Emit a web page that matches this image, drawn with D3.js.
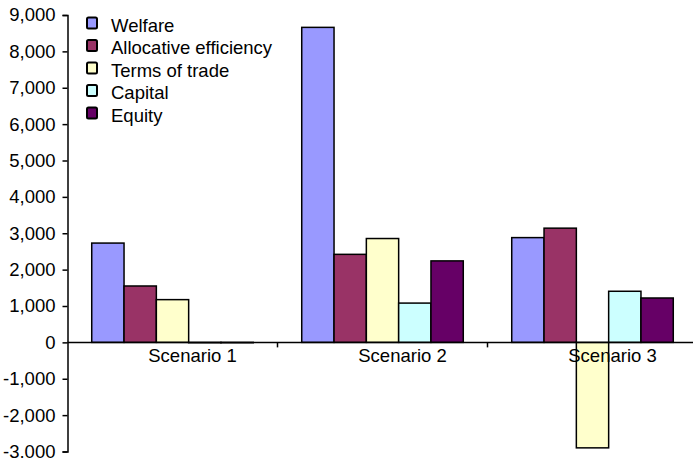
<!DOCTYPE html>
<meta charset="utf-8" />
<html>
<head>
<title>Scenarios</title>
<script src="https://cdn.jsdelivr.net/npm/d3@7"></script>
<style>
body { margin: 0; background: #fff; }
text { font-family: "Liberation Sans", Arial, sans-serif; fill: #000; }
</style>
</head>
<body>
<div id="viz"></div>
<script>

// data
var scenarios = ["Scenario 1", "Scenario 2", "Scenario 3"];
var series = ["Welfare", "Allocative efficiency", "Terms of trade", "Capital", "Equity"];
var colors = ["#9999ff", "#993366", "#ffffcc", "#ccffff", "#660066"];
var welfare = [2730, 8660, 2880];
var allocative = [1550, 2420, 3140];
var termsOfTrade = [1175, 2855, -2900];
var capital = [-10, 1080, 1405];
var equity = [-10, 2240, 1220];
var yTicks = [-3000, -2000, -1000, 0, 1000, 2000, 3000, 4000, 5000, 6000, 7000, 8000, 9000];

var values = [welfare, allocative, termsOfTrade, capital, equity];

width = 693;
height = 458;
var svg = d3.select("#viz").append("svg")
    .attr("width", width)
    .attr("height", height);

var left = 67.5, right = 697.5;
var x0 = d3.scaleBand().domain(scenarios).range([left, right]);
var x1 = d3.scaleBand().domain(series).range([0, x0.bandwidth()]).paddingOuter(0.75);
var y = d3.scaleLinear().domain([-3000, 9000]).range([451.5, 15]);

// bars
var rows = [];
scenarios.forEach(function(s, i) {
  series.forEach(function(k, j) {
    rows.push({scen: s, key: k, value: values[j][i], color: colors[j]});
  });
});

svg.append("g").selectAll("rect")
  .data(rows)
  .enter().append("rect")
  .attr("x", function(d) { return x0(d.scen) + x1(d.key); })
  .attr("width", x1.bandwidth())
  .attr("y", function(d) { return y(Math.max(0, d.value)); })
  .attr("height", function(d) { return Math.abs(y(d.value) - y(0)); })
  .style("fill", function(d) { return d.color; })
  .style("stroke", "#000")
  .style("stroke-width", 1.5);

// y axis
var yAxis = d3.axisLeft(y)
  .tickValues(yTicks)
  .tickSize(5)
  .tickPadding(7)
  .tickFormat(d3.format(","));
var gy = svg.append("g")
  .attr("transform", "translate(" + left + ",0)")
  .call(yAxis);
gy.select(".domain").attr("stroke-width", 1.5);
gy.selectAll(".tick line").attr("stroke-width", 1.5);
gy.selectAll(".tick text")
  .style("font-size", "18.5px")
  .text(function(d) { return d3.format(",")(d).replace("−", "-"); });

// x axis at zero
var gx = svg.append("g").attr("transform", "translate(0," + y(0) + ")");
gx.append("line")
  .attr("x1", left).attr("x2", width)
  .attr("stroke", "#000").attr("stroke-width", 1.5);
gx.selectAll("line.tk")
  .data(scenarios.slice(1).map(function(s) { return x0(s); }).concat([x0(scenarios[2]) + x0.bandwidth()]))
  .enter().append("line")
  .attr("class", "tk")
  .attr("x1", function(d) { return d; }).attr("x2", function(d) { return d; })
  .attr("y1", 0).attr("y2", 5)
  .attr("stroke", "#000").attr("stroke-width", 1.5);
gx.selectAll("text")
  .data(scenarios)
  .enter().append("text")
  .attr("x", function(d) { return x0(d) + x0.bandwidth() / 2 + 20; })
  .attr("y", 20)
  .attr("text-anchor", "middle")
  .style("font-size", "18.5px")
  .text(function(d) { return d; });

// legend
var legend = svg.append("g").selectAll("g")
  .data(series)
  .enter().append("g")
  .attr("transform", function(d, i) { return "translate(87," + (17.5 + i * 22.5) + ")"; });
legend.append("rect")
  .attr("width", 10).attr("height", 11)
  .attr("rx", 1.5)
  .style("fill", function(d, i) { return colors[i]; })
  .style("stroke", "#000")
  .style("stroke-width", 2);
legend.append("text")
  .attr("x", 24)
  .attr("y", 14)
  .style("font-size", "18.5px")
  .text(function(d) { return d; });

</script>
</body>
</html>
